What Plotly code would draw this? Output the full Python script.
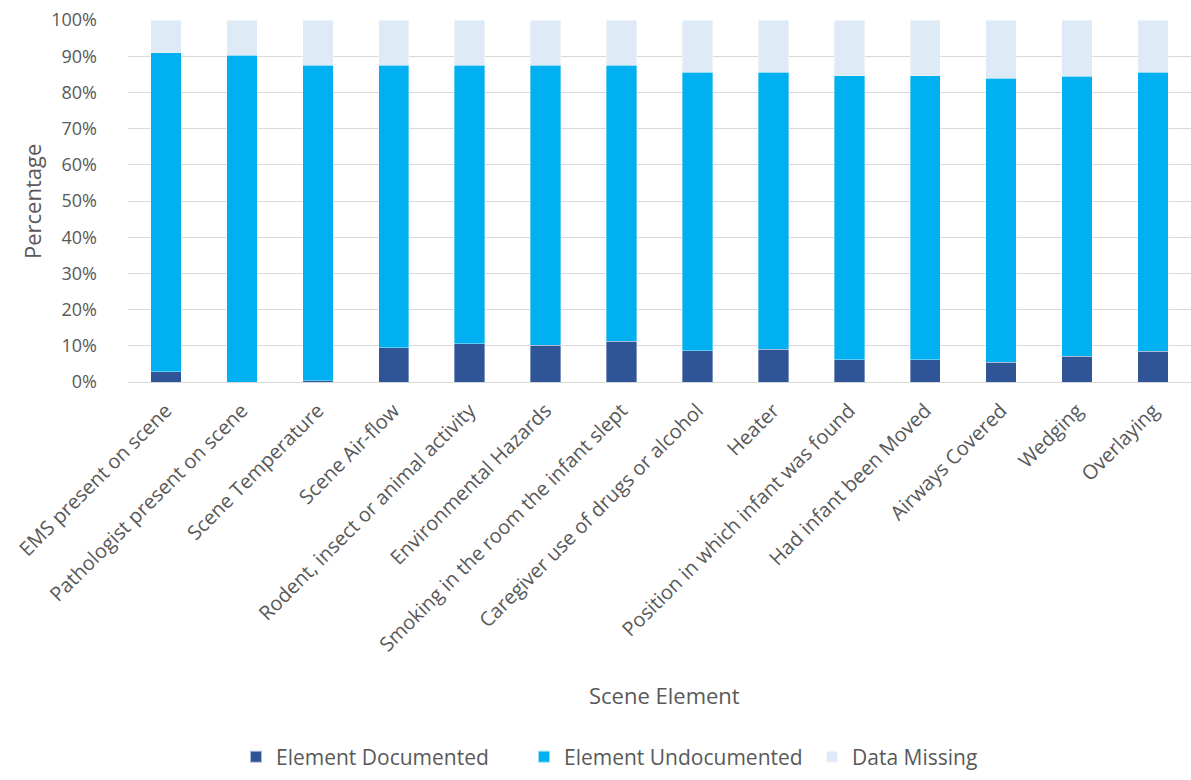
import plotly.graph_objects as go

categories = [
    "EMS present on scene",
    "Pathologist present on scene",
    "Scene Temperature",
    "Scene Air-flow",
    "Rodent, insect or animal activity",
    "Environmental Hazards",
    "Smoking in the room the infant slept",
    "Caregiver use of drugs or alcohol",
    "Heater",
    "Position in which infant was found",
    "Had infant been Moved",
    "Airways Covered",
    "Wedging",
    "Overlaying",
]

# Percent of cases per scene element
documented = [2.8, 0.0, 0.4, 9.4, 10.5, 10.1, 11.2, 8.7, 9.1, 6.2, 6.2, 5.4, 7.1, 8.5]
recorded_total = [91.0, 90.3, 87.5, 87.5, 87.5, 87.5, 87.5, 85.5, 85.5, 84.6, 84.6, 83.9, 84.4, 85.5]
undocumented = [round(t - d, 1) for t, d in zip(recorded_total, documented)]
missing = [round(100 - t, 1) for t in recorded_total]

series_names = ["Element Documented", "Element Undocumented", "Data Missing"]
series_values = [documented, undocumented, missing]
series_colors = ["#2F5597", "#00B0F0", "#DEEBF7"]

FONT = "Open Sans"
TEXT = "#595959"

fig = go.Figure()
for name, vals, color in zip(series_names, series_values, series_colors):
    fig.add_trace(go.Bar(
        x=categories, y=vals, name=name,
        marker=dict(color=color, line=dict(color="rgba(255,255,255,0.6)", width=0.6)),
    ))

fig.update_layout(
    barmode="stack",
    bargap=0.6,
    width=1191, height=780,
    margin=dict(l=128, r=0, t=20, b=398),
    plot_bgcolor="white",
    paper_bgcolor="white",
    font=dict(family=FONT, color=TEXT, size=18),
    showlegend=True,
    legend=dict(
        orientation="h", x=(236 - 128) / 1063, xanchor="left",
        y=-1.093, yanchor="bottom",
        font=dict(size=21, color=TEXT), traceorder="normal",
        itemwidth=30, itemsizing="constant",
        entrywidth=243, entrywidthmode="pixels",
    ),
)

fig.update_xaxes(
    tickangle=-45,
    tickfont=dict(size=20, color=TEXT),
    showline=False, showgrid=False, ticks="",
    ticklabelstandoff=12,
    automargin=False,
)
fig.update_yaxes(
    range=[0, 100],
    dtick=10,
    ticksuffix="%",
    tickfont=dict(size=18, color=TEXT),
    showgrid=True, gridcolor="#D9D9D9", gridwidth=1,
    zeroline=True, zerolinecolor="#D9D9D9", zerolinewidth=1,
    showline=False, ticks="", ticklabelstandoff=30,
    automargin=False,
)

fig.add_annotation(
    text="Percentage", textangle=-90,
    xref="paper", yref="paper", x=(32 - 128) / 1063, y=(382 - 202) / 362,
    xanchor="center", yanchor="middle", showarrow=False,
    font=dict(size=22, color=TEXT, family=FONT),
)
fig.add_annotation(
    text="Scene Element",
    xref="paper", yref="paper", x=(664 - 128) / 1063, y=(382 - 695) / 362,
    xanchor="center", yanchor="middle", showarrow=False,
    font=dict(size=22, color=TEXT, family=FONT),
)

fig.write_html("out.html")
